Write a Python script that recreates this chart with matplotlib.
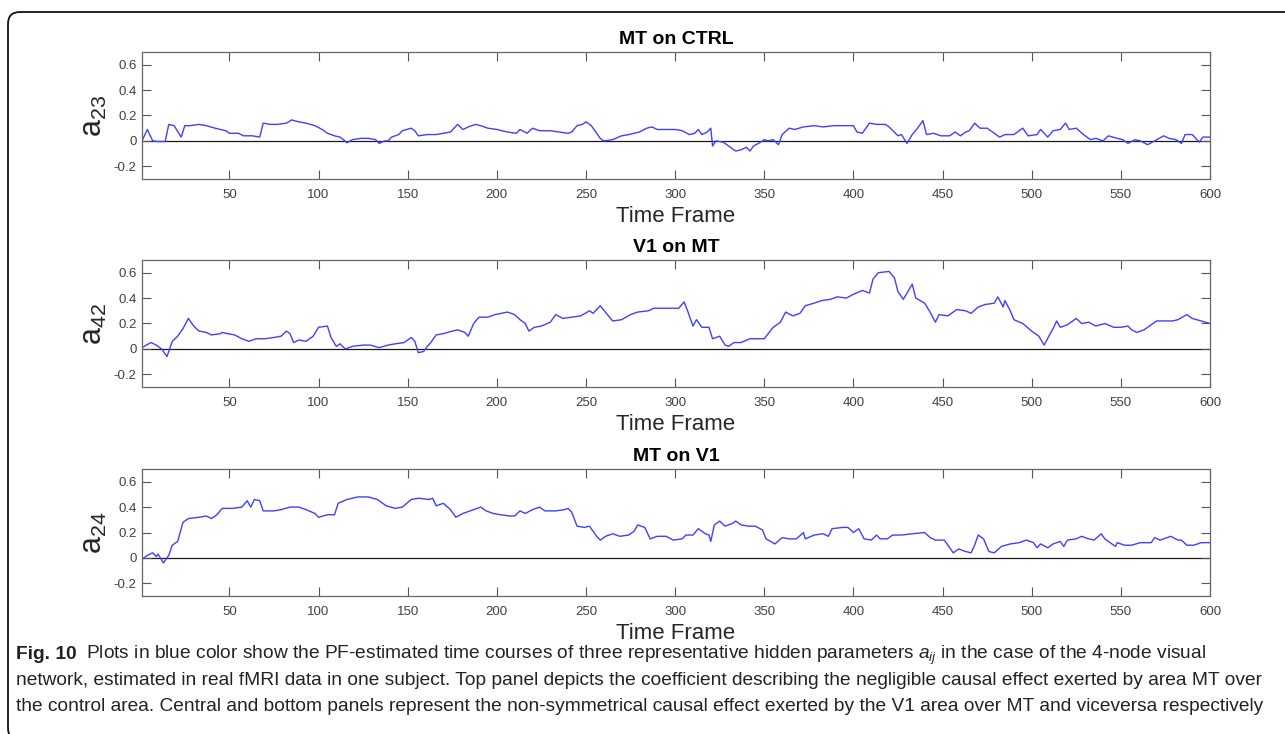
import matplotlib
matplotlib.use('Agg')
import matplotlib.pyplot as plt
from matplotlib import font_manager
from matplotlib.patches import FancyBboxPatch
from matplotlib.transforms import IdentityTransform

# (time frame, value) pairs
mt_on_ctrl = [
    (1, 0.0), (4, 0.09), (7, 0.0), (10, -0.005), (14, -0.005), (16, 0.13), (19, 0.12),
    (23, 0.03), (25, 0.12), (28, 0.12), (33, 0.13), (37, 0.12), (42, 0.10), (48, 0.08),
    (50, 0.06), (55, 0.06), (58, 0.04), (63, 0.04), (67, 0.03), (69, 0.14), (73, 0.13),
    (77, 0.13), (82, 0.14), (85, 0.165), (89, 0.15), (93, 0.14), (98, 0.12), (102, 0.09),
    (105, 0.06), (109, 0.04), (112, 0.03), (114, 0.01), (116, -0.015), (119, 0.01),
    (124, 0.02), (128, 0.02), (132, 0.01), (134, -0.02), (137, 0.0), (139, 0.0),
    (141, 0.03), (145, 0.05), (147, 0.08), (152, 0.10), (154, 0.08), (156, 0.04),
    (161, 0.05), (166, 0.05), (170, 0.06), (174, 0.07), (178, 0.13), (181, 0.09),
    (184, 0.11), (188, 0.13), (191, 0.12), (195, 0.10), (200, 0.09), (206, 0.07),
    (211, 0.06), (213, 0.09), (217, 0.06), (220, 0.10), (224, 0.08), (230, 0.08),
    (235, 0.07), (240, 0.06), (242, 0.07), (245, 0.12), (248, 0.13), (250, 0.15),
    (253, 0.12), (255, 0.08), (258, 0.02), (260, 0.0), (265, 0.01), (270, 0.04),
    (274, 0.05), (280, 0.07), (284, 0.10), (287, 0.11), (290, 0.09), (295, 0.09),
    (300, 0.09), (304, 0.08), (308, 0.05), (311, 0.06), (313, 0.09), (315, 0.05),
    (318, 0.07), (320, 0.10), (321, -0.04), (323, 0.0), (327, -0.01), (330, -0.04),
    (334, -0.08), (337, -0.07), (340, -0.05), (342, -0.08), (344, -0.04), (348, -0.01),
    (350, 0.01), (352, 0.0), (355, 0.01), (358, -0.03), (360, 0.05), (364, 0.10),
    (367, 0.09), (372, 0.11), (378, 0.12), (383, 0.11), (389, 0.12), (395, 0.12),
    (400, 0.12), (402, 0.07), (405, 0.06), (409, 0.14), (413, 0.13), (418, 0.13),
    (420, 0.11), (425, 0.04), (427, 0.05), (430, -0.02), (433, 0.05), (436, 0.10),
    (439, 0.16), (441, 0.05), (445, 0.06), (449, 0.04), (454, 0.04), (457, 0.07),
    (460, 0.04), (463, 0.07), (465, 0.08), (468, 0.14), (471, 0.10), (475, 0.10),
    (479, 0.06), (482, 0.03), (485, 0.05), (490, 0.05), (495, 0.10), (498, 0.04),
    (503, 0.05), (505, 0.09), (509, 0.03), (512, 0.08), (516, 0.09), (519, 0.14),
    (521, 0.09), (525, 0.10), (529, 0.05), (533, 0.01), (536, 0.02), (540, 0.0),
    (543, 0.04), (548, 0.02), (551, 0.01), (554, -0.02), (558, 0.01), (561, 0.0),
    (565, -0.03), (569, 0.0), (574, 0.04), (577, 0.02), (581, 0.01), (584, -0.02),
    (586, 0.05), (590, 0.05), (594, -0.01), (596, 0.03), (600, 0.03),
]

v1_on_mt = [
    (1, 0.01), (6, 0.05), (9, 0.03), (12, 0.0), (15, -0.06), (18, 0.06), (21, 0.10),
    (24, 0.16), (27, 0.24), (30, 0.18), (33, 0.14), (37, 0.13), (40, 0.11), (45, 0.12),
    (46, 0.13), (49, 0.12), (53, 0.11), (57, 0.08), (61, 0.06), (65, 0.08), (70, 0.08),
    (75, 0.09), (79, 0.10), (82, 0.14), (84, 0.12), (86, 0.05), (89, 0.07), (93, 0.06),
    (97, 0.10), (100, 0.17), (105, 0.18), (107, 0.09), (110, 0.02), (112, 0.04),
    (115, 0.0), (119, 0.02), (125, 0.03), (129, 0.03), (134, 0.01), (139, 0.03),
    (143, 0.04), (148, 0.05), (152, 0.09), (154, 0.06), (156, -0.03), (159, -0.02),
    (161, 0.02), (163, 0.05), (166, 0.11), (170, 0.12), (175, 0.14), (178, 0.15),
    (182, 0.13), (184, 0.10), (187, 0.20), (190, 0.25), (195, 0.25), (199, 0.27),
    (206, 0.29), (210, 0.27), (213, 0.23), (216, 0.20), (218, 0.14), (221, 0.17),
    (225, 0.18), (230, 0.21), (233, 0.27), (237, 0.24), (242, 0.25), (247, 0.26),
    (252, 0.30), (254, 0.28), (258, 0.34), (262, 0.27), (265, 0.22), (270, 0.23),
    (275, 0.27), (279, 0.29), (285, 0.30), (288, 0.32), (295, 0.32), (302, 0.32),
    (305, 0.37), (307, 0.30), (310, 0.18), (312, 0.23), (315, 0.17), (319, 0.17),
    (321, 0.08), (325, 0.10), (328, 0.03), (330, 0.02), (333, 0.05), (337, 0.05),
    (342, 0.08), (347, 0.08), (350, 0.08), (355, 0.17), (359, 0.21), (362, 0.29),
    (366, 0.26), (370, 0.28), (373, 0.34), (378, 0.36), (382, 0.38), (387, 0.39),
    (391, 0.41), (396, 0.40), (400, 0.43), (405, 0.46), (409, 0.44), (411, 0.55),
    (414, 0.60), (420, 0.61), (423, 0.56), (425, 0.45), (428, 0.39), (433, 0.51),
    (435, 0.40), (440, 0.36), (443, 0.29), (446, 0.21), (448, 0.27), (453, 0.26),
    (456, 0.29), (458, 0.31), (463, 0.30), (466, 0.28), (470, 0.33), (474, 0.35),
    (479, 0.36), (481, 0.41), (484, 0.33), (485, 0.38), (488, 0.30), (490, 0.23),
    (495, 0.20), (500, 0.14), (504, 0.10), (507, 0.03), (510, 0.11), (512, 0.16),
    (514, 0.22), (516, 0.17), (520, 0.19), (525, 0.24), (528, 0.20), (532, 0.21),
    (536, 0.18), (541, 0.20), (546, 0.17), (550, 0.17), (554, 0.18), (556, 0.15),
    (559, 0.13), (563, 0.15), (566, 0.18), (570, 0.22), (573, 0.22), (579, 0.22),
    (582, 0.23), (587, 0.27), (590, 0.24), (595, 0.22), (600, 0.20),
]

mt_on_v1 = [
    (1, -0.01), (4, 0.02), (7, 0.04), (9, 0.01), (10, 0.03), (13, -0.04), (16, 0.02),
    (18, 0.10), (21, 0.13), (24, 0.28), (27, 0.31), (33, 0.32), (37, 0.33), (40, 0.31),
    (43, 0.34), (46, 0.39), (52, 0.39), (57, 0.40), (60, 0.45), (62, 0.40), (64, 0.46),
    (67, 0.45), (69, 0.37), (75, 0.37), (79, 0.38), (84, 0.40), (89, 0.40), (93, 0.38),
    (98, 0.35), (100, 0.32), (105, 0.34), (109, 0.34), (111, 0.43), (116, 0.46),
    (122, 0.48), (128, 0.48), (133, 0.46), (138, 0.41), (143, 0.39), (147, 0.40),
    (152, 0.46), (156, 0.47), (162, 0.46), (164, 0.47), (166, 0.41), (170, 0.43),
    (174, 0.38), (177, 0.32), (181, 0.35), (185, 0.37), (191, 0.40), (194, 0.37),
    (198, 0.35), (202, 0.34), (207, 0.33), (210, 0.33), (213, 0.37), (216, 0.35),
    (220, 0.38), (224, 0.40), (227, 0.37), (233, 0.37), (238, 0.38), (240, 0.39),
    (242, 0.36), (245, 0.25), (249, 0.24), (252, 0.25), (256, 0.17), (258, 0.14),
    (261, 0.17), (265, 0.19), (269, 0.17), (274, 0.18), (277, 0.21), (279, 0.26),
    (283, 0.24), (286, 0.15), (290, 0.17), (295, 0.17), (299, 0.14), (304, 0.15),
    (306, 0.18), (310, 0.18), (313, 0.23), (317, 0.19), (319, 0.18), (320, 0.13),
    (322, 0.26), (325, 0.29), (328, 0.25), (332, 0.27), (334, 0.29), (337, 0.26),
    (341, 0.25), (345, 0.25), (349, 0.22), (351, 0.15), (356, 0.11), (360, 0.16),
    (364, 0.15), (368, 0.15), (372, 0.20), (373, 0.15), (378, 0.18), (383, 0.19),
    (386, 0.17), (388, 0.23), (394, 0.24), (397, 0.24), (400, 0.20), (403, 0.23),
    (406, 0.15), (410, 0.14), (413, 0.18), (415, 0.15), (419, 0.15), (422, 0.18),
    (427, 0.18), (433, 0.19), (440, 0.20), (443, 0.16), (446, 0.14), (451, 0.14),
    (453, 0.10), (456, 0.04), (459, 0.07), (463, 0.05), (466, 0.04), (468, 0.10),
    (470, 0.18), (473, 0.15), (476, 0.05), (479, 0.04), (483, 0.09), (488, 0.11),
    (493, 0.12), (497, 0.14), (501, 0.12), (503, 0.08), (505, 0.11), (509, 0.08),
    (512, 0.11), (516, 0.13), (518, 0.09), (520, 0.14), (525, 0.15), (528, 0.17),
    (532, 0.15), (535, 0.14), (539, 0.19), (541, 0.15), (545, 0.11), (547, 0.09),
    (548, 0.12), (552, 0.10), (556, 0.10), (561, 0.12), (567, 0.12), (569, 0.16),
    (572, 0.14), (578, 0.17), (582, 0.14), (584, 0.14), (587, 0.10), (591, 0.10),
    (595, 0.12), (600, 0.12),
]

series = [mt_on_ctrl, v1_on_mt, mt_on_v1]
titles = ['MT on CTRL', 'V1 on MT', 'MT on V1']
ylabels = [r'$\mathregular{a_{23}}$', r'$\mathregular{a_{42}}$', r'$\mathregular{a_{24}}$']
xticks = list(range(50, 601, 50))
yticks = [-0.2, 0, 0.2, 0.4, 0.6]
ytick_labels = ['-0.2', '0', '0.2', '0.4', '0.6']

caption_bold = 'Fig. 10'
caption_lines = [
    'Plots in blue color show the PF-estimated time courses of three representative '
    'hidden parameters $a_{ij}$ in the case of the 4-node visual',
    'network, estimated in real fMRI data in one subject. Top panel depicts the coefficient '
    'describing the negligible causal effect exerted by area MT over',
    'the control area. Central and bottom panels represent the non-symmetrical causal effect '
    'exerted by the V1 area over MT and viceversa respectively',
]


def pick_font(names):
    for n in names:
        try:
            font_manager.findfont(n, fallback_to_default=False)
            return n
        except ValueError:
            pass
    return 'DejaVu Sans'


plot_font = pick_font(['Liberation Sans', 'Arial'])
cap_font = pick_font(['Liberation Sans Narrow', 'Liberation Sans'])
plt.rcParams['font.family'] = [plot_font, 'DejaVu Sans']
plt.rcParams['mathtext.fontset'] = 'custom'
plt.rcParams['mathtext.it'] = cap_font + ':italic'
plt.rcParams['mathtext.rm'] = plot_font

W, H = 1285, 734
fig = plt.figure(figsize=(W / 100, H / 100), dpi=100)

rects = [
    [142 / W, 1 - 179 / H, 1068 / W, 127 / H],
    [142 / W, 1 - 387 / H, 1068 / W, 127 / H],
    [142 / W, 1 - 596 / H, 1068 / W, 127 / H],
]

for rect, pts, title, ylab in zip(rects, series, titles, ylabels):
    ax = fig.add_axes(rect)
    xs = [p[0] for p in pts]
    ys = [p[1] for p in pts]
    ax.axhline(0, color='#1a1a1a', lw=0.9, zorder=1)
    ax.plot(xs, ys, color='#4040ff', lw=1.0, zorder=2)
    ax.set_xlim(1, 600)
    ax.set_ylim(-0.3, 0.7)
    ax.set_xticks(xticks)
    ax.set_yticks(yticks)
    ax.set_yticklabels(ytick_labels)
    ax.tick_params(direction='in', length=6.5, width=0.8, color='#555555',
                   labelsize=9.5, labelcolor='#404040', top=True, right=True)
    ax.tick_params(axis='x', pad=7)
    ax.tick_params(axis='y', pad=4)
    for s in ax.spines.values():
        s.set_color('#666666')
        s.set_linewidth(0.9)
    ax.set_title(title, fontsize=14, fontweight='bold', pad=6)
    ax.set_xlabel('Time Frame', fontsize=16, color='#262626', labelpad=4)
    ax.set_ylabel(ylab, fontsize=22, color='#262626', labelpad=3)

# rounded frame around the figure panel
frame = FancyBboxPatch((8, -6), 1320, 734 - 12 + 6, boxstyle='round,pad=0,rounding_size=12',
                       transform=IdentityTransform(), fill=False, ec='#111111', lw=1.3)
fig.add_artist(frame)

# caption: size chosen so the second line spans the same width as in the figure
baselines = [1 - 659 / H, 1 - 685 / H, 1 - 711 / H]
probe = fig.text(16 / W, baselines[1], caption_lines[1], fontsize=14, family=cap_font,
                 va='baseline')
fig.canvas.draw()
cap_size = 14 * (1270 - 16) / probe.get_window_extent().width
probe.remove()

bold_txt = fig.text(16 / W, baselines[0], caption_bold, fontsize=cap_size, fontweight='bold',
                    family=cap_font, va='baseline', color='#222222')
fig.canvas.draw()
bb = bold_txt.get_window_extent()
fig.text((bb.x1 + 9) / W, baselines[0], caption_lines[0], fontsize=cap_size, family=cap_font,
         va='baseline', color='#222222')
for line, yb in zip(caption_lines[1:], baselines[1:]):
    fig.text(16 / W, yb, line, fontsize=cap_size, family=cap_font, va='baseline',
             color='#222222')

fig.savefig('out.png', dpi=100)
